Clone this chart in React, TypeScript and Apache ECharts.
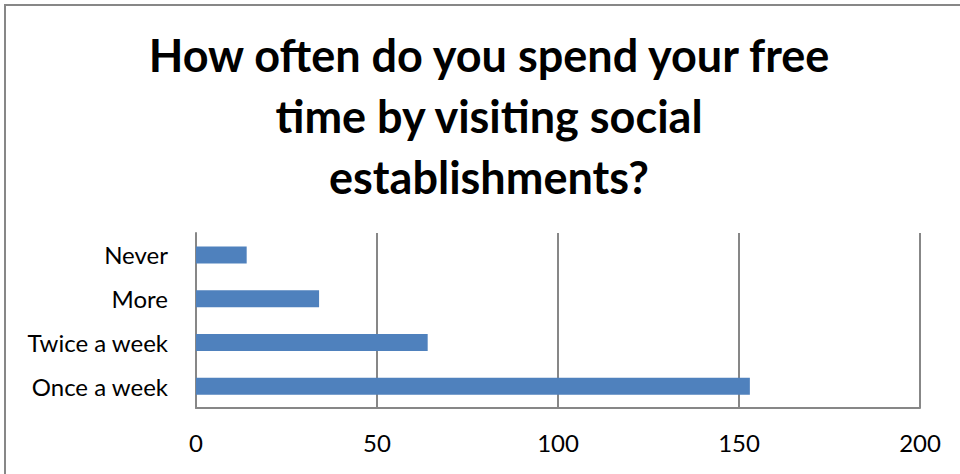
import React, { useEffect, useRef } from "react";
import * as echarts from "echarts";

const titleText = "How often do you spend your free\ntime by visiting social\nestablishments?";
const categories = ["Once a week", "Twice a week", "More", "Never"];
const values = [153, 64, 34, 14];
const xMin = 0;
const xMax = 200;
const xInterval = 50;

export default function App() {
  const ref = useRef<HTMLDivElement>(null);
  useEffect(() => {
    if (!ref.current) return;
    const chart = echarts.init(ref.current, undefined, { renderer: "svg" });
    chart.setOption({
      animation: false,
      backgroundColor: "#ffffff",
      graphic: [
        {
          type: "rect",
          shape: { x: 5, y: 5, width: 1000, height: 1000 },
          style: { fill: "none", stroke: "#878787", lineWidth: 2 },
          silent: true,
        },
        {
          type: "text",
          x: 489,
          y: 116,
          silent: true,
          style: {
            text: titleText,
            align: "center",
            verticalAlign: "middle",
            fontFamily: "Lato",
            fontWeight: "bold",
            fontSize: 45,
            lineHeight: 61,
            fill: "#000000",
          },
        },
      ],
      grid: { left: 196, right: 40, top: 233, bottom: 66, containLabel: false },
      xAxis: {
        type: "value",
        min: xMin,
        max: xMax,
        interval: xInterval,
        axisLine: { show: true, lineStyle: { color: "#878787", width: 2 } },
        axisTick: { show: false },
        splitLine: { show: true, lineStyle: { color: "#878787", width: 2 } },
        axisLabel: {
          color: "#000000",
          fontFamily: "Lato",
          fontSize: 24,
          margin: 22,
        },
      },
      yAxis: {
        type: "category",
        data: categories,
        axisLine: { show: true, lineStyle: { color: "#878787", width: 2 } },
        axisTick: { show: false },
        splitLine: { show: false },
        axisLabel: {
          color: "#000000",
          fontFamily: "Lato",
          fontSize: 24,
          margin: 28,
        },
      },
      series: [
        {
          type: "bar",
          data: values,
          barWidth: 17,
          itemStyle: { color: "#4F81BD" },
        },
      ],
    });
    return () => chart.dispose();
  }, []);
  return (
    <div
      ref={ref}
      style={{ position: "fixed", left: 0, top: 0, width: 960, height: 474 }}
    />
  );
}
